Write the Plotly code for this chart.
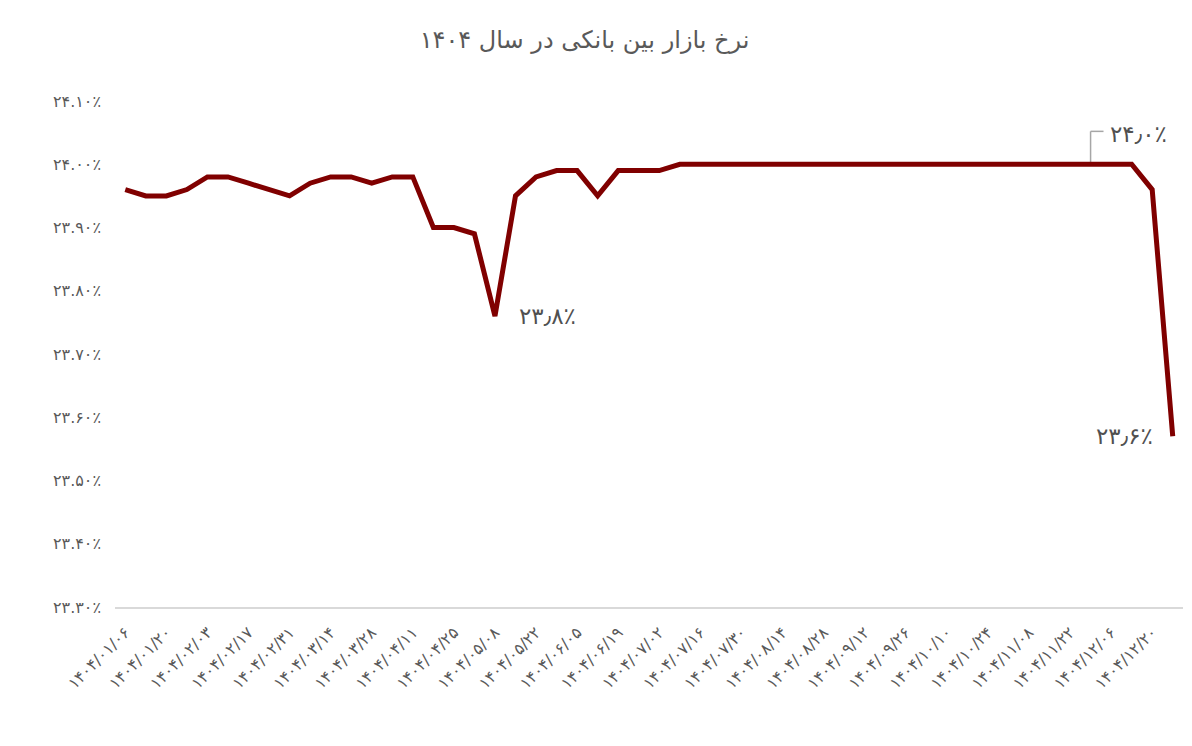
import plotly.graph_objects as go

# weekly observation dates (Persian calendar, 1404)
dates = [
    "1404/01/06", "1404/01/13", "1404/01/20", "1404/01/27", "1404/02/03", "1404/02/10",
    "1404/02/17", "1404/02/24", "1404/02/31", "1404/03/07", "1404/03/14", "1404/03/21",
    "1404/03/28", "1404/04/04", "1404/04/11", "1404/04/18", "1404/04/25", "1404/05/01",
    "1404/05/08", "1404/05/15", "1404/05/22", "1404/05/29", "1404/06/05", "1404/06/12",
    "1404/06/19", "1404/06/26", "1404/07/02", "1404/07/09", "1404/07/16", "1404/07/23",
    "1404/07/30", "1404/08/07", "1404/08/14", "1404/08/21", "1404/08/28", "1404/09/05",
    "1404/09/12", "1404/09/19", "1404/09/26", "1404/10/03", "1404/10/10", "1404/10/17",
    "1404/10/24", "1404/11/01", "1404/11/08", "1404/11/15", "1404/11/22", "1404/11/29",
    "1404/12/06", "1404/12/13", "1404/12/20", "1404/12/27",
]

# interbank rate (%)
rates = [
    23.96, 23.95, 23.95, 23.96, 23.98, 23.98, 23.97, 23.96, 23.95, 23.97,
    23.98, 23.98, 23.97, 23.98, 23.98, 23.90, 23.90, 23.89, 23.76, 23.95,
    23.98, 23.99, 23.99, 23.95, 23.99, 23.99, 23.99, 24.00, 24.00, 24.00,
    24.00, 24.00, 24.00, 24.00, 24.00, 24.00, 24.00, 24.00, 24.00, 24.00,
    24.00, 24.00, 24.00, 24.00, 24.00, 24.00, 24.00, 24.00, 24.00, 24.00,
    23.96, 23.57,
]

y_ticks = [23.3, 23.4, 23.5, 23.6, 23.7, 23.8, 23.9, 24.0, 24.1]

title_text = "نرخ بازار بین بانکی در سال ۱۴۰۴"

# labelled points: (index, label)
labelled = [(18, "۲۳٫۸٪"), (47, "۲۴٫۰٪"), (51, "۲۳٫۶٪")]

FA = str.maketrans("0123456789", "۰۱۲۳۴۵۶۷۸۹")


def fa(s):
    return s.translate(FA)


x_tickvals = dates[::2]
x_ticktext = [fa(d) for d in x_tickvals]
y_ticktext = [fa(f"{v:.2f}") + "٪" for v in y_ticks]

FONT = "DejaVu Sans"
GREY = "#595959"
LBL = "#505050"

fig = go.Figure()
fig.add_trace(go.Scatter(
    x=dates, y=rates, mode="lines",
    line=dict(color="#800000", width=5),
    hoverinfo="x+y",
))

fig.update_layout(
    width=1184, height=738,
    margin=dict(l=107, r=9, t=93, b=139, autoexpand=False),
    paper_bgcolor="white", plot_bgcolor="white",
    showlegend=False,
    font=dict(family=FONT, color=GREY),
    title=dict(text=title_text, x=0.487, xref="container", xanchor="center",
               y=0.957, yref="container", yanchor="middle",
               font=dict(family=FONT, size=24, color=GREY)),
)

fig.update_xaxes(
    type="category", range=[-0.5, len(dates) - 0.5],
    tickvals=x_tickvals, ticktext=x_ticktext, tickangle=-45,
    tickfont=dict(family=FONT, size=16, color=GREY),
    showline=True, linecolor="#d9d9d9", linewidth=1.5,
    showgrid=False, zeroline=False, ticks="", automargin=False,
    ticklabelstandoff=8,
)
fig.update_yaxes(
    range=[23.3, 24.1], tickvals=y_ticks, ticktext=y_ticktext,
    tickfont=dict(family=FONT, size=16, color=GREY),
    showgrid=False, zeroline=False, showline=False, ticks="", ticklabelstandoff=13,
    automargin=False,
)

# data labels
i, t = labelled[0]
fig.add_annotation(x=dates[i], y=rates[i], text=t, showarrow=False,
                   xanchor="left", yanchor="middle", xshift=22, yshift=0,
                   font=dict(family=FONT, size=23, color=LBL))
i, t = labelled[2]
fig.add_annotation(x=dates[i], y=rates[i], text=t, showarrow=False,
                   xanchor="right", yanchor="middle", xshift=-18, yshift=0,
                   font=dict(family=FONT, size=23, color=LBL))

# callout for the 24.0 label with leader line
i, t = labelled[1]
top = rates[i] + 0.052
fig.add_shape(type="line", xref="x", yref="y", x0=i, x1=i, y0=rates[i], y1=top,
              line=dict(color="#a6a6a6", width=1.5), layer="below")
fig.add_shape(type="line", xref="x", yref="y", x0=i, x1=i + 0.63, y0=top, y1=top,
              line=dict(color="#a6a6a6", width=1.5), layer="below")
fig.add_annotation(x=i + 0.63, y=top, text=t, showarrow=False,
                   xanchor="left", yanchor="middle", xshift=4, yshift=-3,
                   font=dict(family=FONT, size=23, color=LBL))

fig.write_html("out.html")
